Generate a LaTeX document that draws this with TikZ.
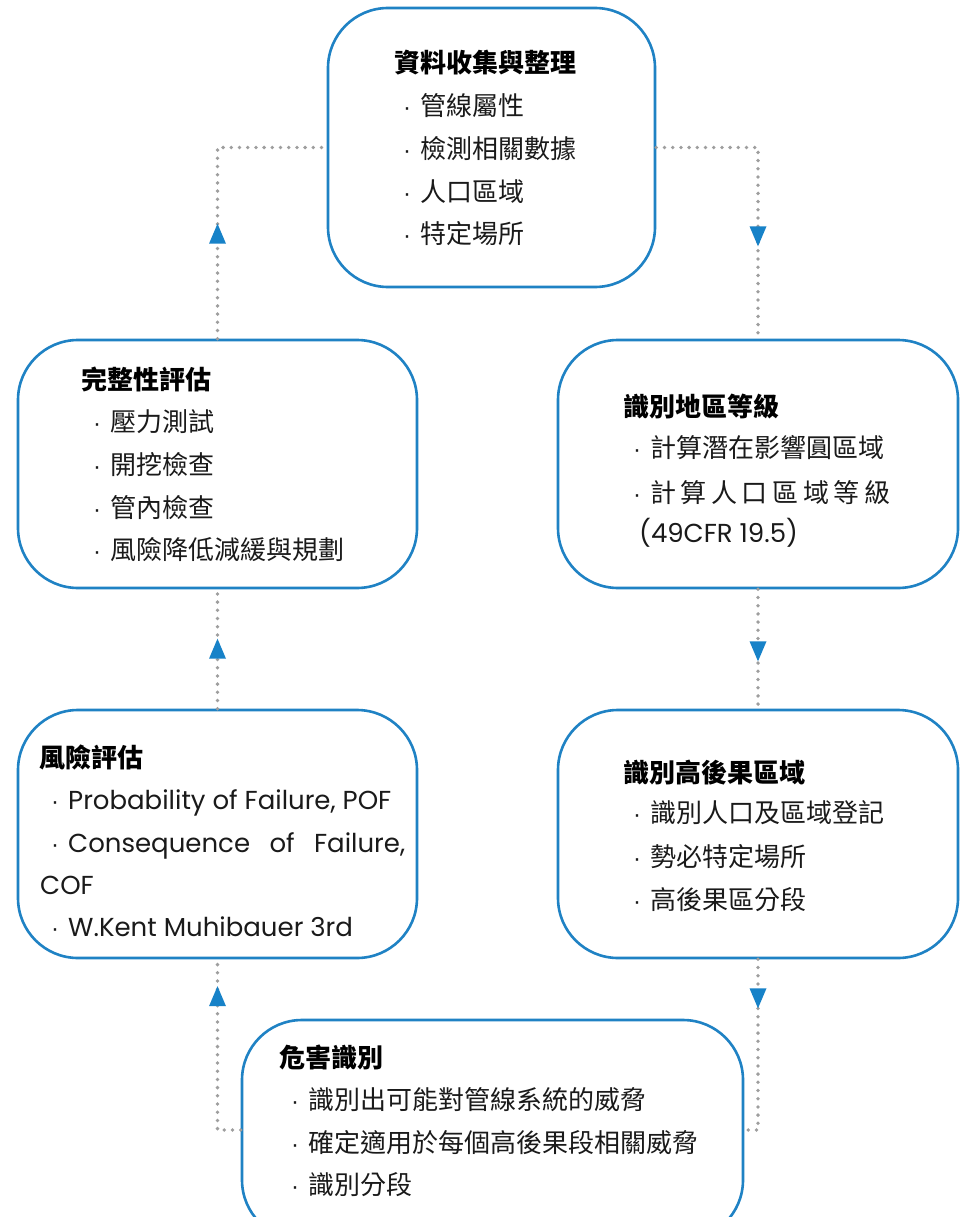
\documentclass[tikz,border=0pt]{standalone}
\usepackage{fontspec}
\setmainfont{Poppins}
\newfontfamily\cjk{Noto Sans CJK TC}
\newfontfamily\dotf{Liberation Sans}
\usetikzlibrary{decorations.markings}
\definecolor{boxblue}{HTML}{1F82C4}
\definecolor{arrowblue}{HTML}{1782C8}
\definecolor{dotgray}{HTML}{9E9E9E}
\definecolor{txtcol}{HTML}{1A1A1A}
\newcommand{\bul}{\makebox[14pt]{\dotf\fontsize{24}{26}\selectfont ·}\hspace{6pt}}
\begin{document}
\begin{tikzpicture}[x=1pt,y=-1pt,
  box/.style={draw=boxblue, line width=2.6pt, rounded corners=60pt, rectangle, inner sep=0pt},
  tx/.style={anchor=west, inner sep=0pt, text height=22.9pt, text depth=3.1pt, text=txtcol, font=\cjk\fontsize{26}{30}\selectfont},
  ttl/.style={tx, font=\cjk\bfseries\fontsize{26}{30}\selectfont, text=black},
  lat/.style={tx, font=\fontsize{26}{30}\selectfont},
  conn/.style={draw=dotgray, line width=3.8pt, line cap=round, dash pattern=on 0pt off 8.2pt},
  arr/.style={postaction={decorate}, decoration={markings, mark=at position #1 with {\fill[arrowblue] (10pt,0pt) -- (-10pt,8.5pt) -- (-10pt,-8.5pt) -- cycle;}}}]
\useasboundingbox (0,0) rectangle (968,1217);
\clip (0,0) rectangle (968,1217);
\fill[white] (0,0) rectangle (968,1217);

% boxes
\node[box, minimum width=327pt, minimum height=279pt] (top) at (491.5,147.5) {};
\node[box, minimum width=399pt, minimum height=248pt] (lb1) at (217.5,464) {};
\node[box, minimum width=400pt, minimum height=248pt] (rb1) at (758,464) {};
\node[box, minimum width=399pt, minimum height=248pt] (lb2) at (217.5,834) {};
\node[box, minimum width=400pt, minimum height=248pt] (rb2) at (758,834) {};
\node[box, minimum width=501pt, minimum height=220pt] (bot) at (492.5,1130) {};

% connectors
\path[conn, arr=105pt] (lb1.north) |- (top.west);
\path[conn, arr=190.5pt] (top.east) -| (rb1.north);
\path[conn, arr=60pt] (lb2.north) -- (lb2.north |- lb1.south);
\path[conn, arr=62pt] (rb1.south) -- (rb2.north);
\path[conn, arr=157pt] (bot.west) -| (lb2.south);
\path[conn, arr=39pt] (rb2.south) |- (bot.east);

% top box text
\node[ttl] (t0) at (394,63) {資料收集與整理};
\node[tx] (t1) at (400,106) {\bul 管線屬性};
\node[tx] (t2) at (400,149) {\bul 檢測相關數據};
\node[tx] (t3) at (400,192) {\bul 人口區域};
\node[tx] (t4) at (400,234) {\bul 特定場所};

% left box 1
\node[ttl] (a0) at (81,380) {完整性評估};
\node[tx] (a1) at (90,422) {\bul 壓力測試};
\node[tx] (a2) at (90,465) {\bul 開挖檢查};
\node[tx] (a3) at (90,508) {\bul 管內檢查};
\node[tx] (a4) at (90,550) {\bul 風險降低減緩與規劃};

% right box 1
\node[ttl] (b0) at (623,407) {識別地區等級};
\node[tx] (b1) at (630,448) {\bul 計算潛在影響圓區域};
\node[tx] (b2) at (630,493) {\bul\makebox[240pt][s]{計\hfill 算\hfill 人\hfill 口\hfill 區\hfill 域\hfill 等\hfill 級}};
\node[lat] (b3) at (639,533) {(49CFR 19.5)};

% right box 2
\node[ttl] (c0) at (623,773) {識別高後果區域};
\node[tx] (c1) at (630,813) {\bul 識別人口及區域登記};
\node[tx] (c2) at (630,857) {\bul 勢必特定場所};
\node[tx] (c3) at (630,900) {\bul 高後果區分段};

% left box 2
\node[ttl] (d0) at (39,758) {風險評估};
\node[lat] (d1) at (48,800) {\bul Probability of Failure, POF};
\node[lat] (d2) at (48,843) {\bul\makebox[337pt][s]{Consequence\hfill of\hfill Failure,}};
\node[lat] (d3) at (40,885) {COF};
\node[lat] (d4) at (48,927) {\bul W.Kent Muhibauer 3rd};

% bottom box
\node[ttl] (e0) at (279,1058) {危害識別};
\node[tx] (e1) at (288,1100) {\bul 識別出可能對管線系統的威脅};
\node[tx] (e2) at (288,1143) {\bul 確定適用於每個高後果段相關威脅};
\node[tx] (e3) at (288,1185) {\bul 識別分段};
\end{tikzpicture}
\end{document}
